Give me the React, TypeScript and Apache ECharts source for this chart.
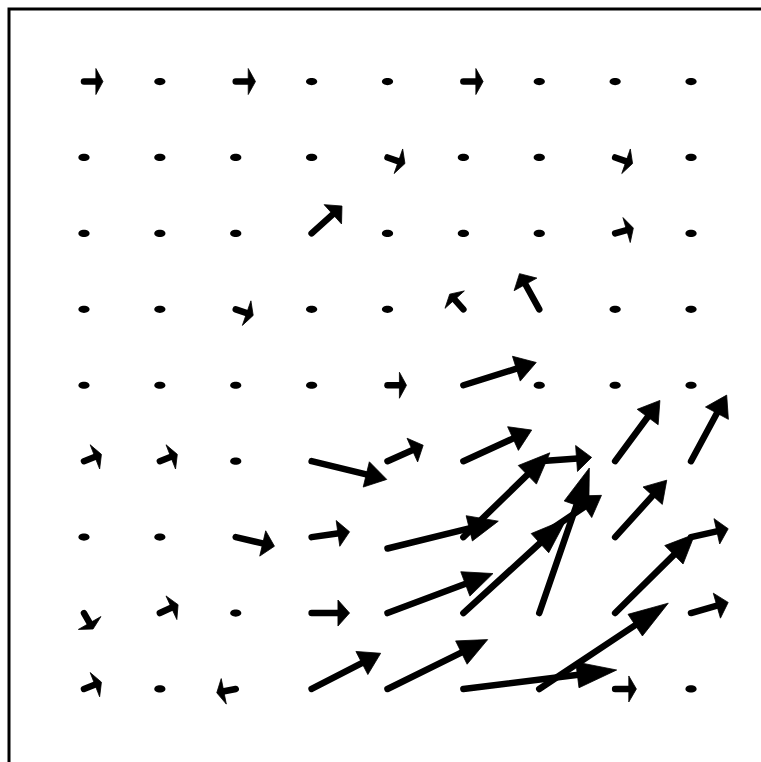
import { useEffect, useRef } from 'react';
import * as echarts from 'echarts';

// Column x-values (left to right) and row y-values (top to bottom)
const COLS = [0, 1, 2, 3, 4, 5, 6, 7, 8];
const ROWS = [8, 7, 6, 5, 4, 3, 2, 1, 0];

// One tail that sits slightly off the regular grid
const TAIL_SHIFT = [{ row: 6, col: 4, dy: -0.15 }];

// Horizontal vector components, one array per row (top to bottom)
const U = [
  [0.25, 0, 0.26, 0, 0, 0.26, 0, 0, 0],
  [0, 0, 0, 0, 0.23, 0, 0, 0.23, 0],
  [0, 0, 0, 0.4, 0, 0, 0, 0.24, 0],
  [0, 0, 0.23, 0, 0, -0.18, -0.26, 0, 0],
  [0, 0, 0, 0, 0.25, 0.96, 0, 0, 0],
  [0.23, 0.23, 0, 0.99, 0.47, 0.9, 0.69, 0.59, 0.47],
  [0, 0, 0.51, 0.5, 1.46, 1.14, 0.82, 0.68, 0.49],
  [0.12, 0.24, 0, 0.5, 1.39, 1.36, 0.66, 1.05, 0.49],
  [0.23, 0, -0.25, 0.91, 1.32, 2.02, 1.7, 0.28, 0],
];

// Vertical vector components (positive = up), one array per row
const V = [
  [0, 0, 0, 0, 0, 0, 0, 0, 0],
  [0, 0, 0, 0, -0.08, 0, 0, -0.08, 0],
  [0, 0, 0, 0.36, 0, 0, 0, 0.07, 0],
  [0, 0, -0.08, 0, 0, 0.2, 0.47, 0, 0],
  [0, 0, 0, 0, 0, 0.3, 0, 0, 0],
  [0.09, 0.09, 0, -0.24, 0.21, 0.41, 0.05, 0.8, 0.87],
  [0, 0, -0.12, 0.07, 0.36, 1.11, 0.55, 0.75, 0.11],
  [-0.21, 0.11, 0, 0, 0.52, 1.24, 1.91, 1.04, 0.14],
  [0.09, 0, -0.05, 0.47, 0.65, 0.25, 1.13, 0, 0],
];

export default function App() {
  const ref = useRef<HTMLDivElement>(null);

  useEffect(() => {
    if (!ref.current) return;
    const chart = echarts.init(ref.current, null, { renderer: 'svg' });

    const data: number[][] = [];
    ROWS.forEach((y, r) => {
      COLS.forEach((x, c) => {
        const s = TAIL_SHIFT.find((t) => t.row === r && t.col === c);
        data.push([x, y + (s ? s.dy : 0), U[r][c], V[r][c]]);
      });
    });

    const renderItem = (_params: any, api: any) => {
      const x = api.value(0);
      const y = api.value(1);
      const u = api.value(2);
      const v = api.value(3);
      const p0 = api.coord([x, y]);
      const p1 = api.coord([x + u, y + v]);
      const dx = p1[0] - p0[0];
      const dy = p1[1] - p0[1];
      const L = Math.hypot(dx, dy);
      if (L < 2) {
        return {
          type: 'ellipse',
          shape: { cx: p0[0], cy: p0[1], rx: 5.6, ry: 3.6 },
          style: { fill: '#000' },
        };
      }
      const ux = dx / L;
      const uy = dy / L;
      const px = -uy;
      const py = ux;
      const hl = 0.24 * L + 2.5;
      const hw = 13;
      const bx = p1[0] - ux * hl;
      const by = p1[1] - uy * hl;
      return {
        type: 'group',
        children: [
          {
            type: 'line',
            shape: { x1: p0[0], y1: p0[1], x2: bx + ux, y2: by + uy },
            style: { stroke: '#000', lineWidth: 6.5, lineCap: 'round' },
          },
          {
            type: 'polygon',
            shape: {
              points: [
                [p1[0], p1[1]],
                [bx + px * hw, by + py * hw],
                [bx - px * hw, by - py * hw],
              ],
            },
            style: { fill: '#000', stroke: '#000', lineWidth: 0.8, lineJoin: 'round' },
          },
        ],
      };
    };

    chart.setOption({
      animation: false,
      backgroundColor: '#ffffff',
      grid: { left: 8.1, top: 5.6, width: 758.8, height: 759.3, outerBoundsMode: 'none' },
      xAxis: { type: 'value', min: -1, max: 9, show: false },
      yAxis: { type: 'value', min: -1, max: 9, show: false },
      graphic: [
        {
          type: 'rect',
          silent: true,
          shape: { x: 9, y: 9, width: 800, height: 800 },
          style: { fill: 'none', stroke: '#000', lineWidth: 3 },
        },
      ],
      series: [
        {
          type: 'custom',
          coordinateSystem: 'cartesian2d',
          silent: true,
          clip: false,
          encode: { x: 0, y: 1 },
          data,
          renderItem,
        },
      ],
    });

    return () => {
      chart.dispose();
    };
  }, []);

  return (
    <div
      ref={ref}
      style={{ position: 'fixed', left: 0, top: 0, width: 761, height: 762 }}
    />
  );
}
